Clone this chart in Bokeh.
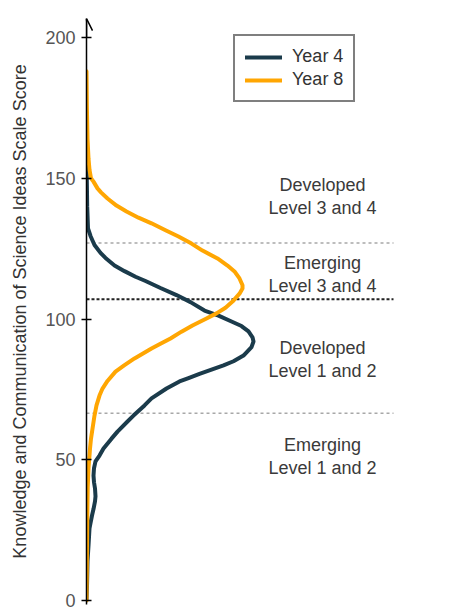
from bokeh.plotting import figure
from bokeh.models import Range1d, Arrow, OpenHead, Legend, LegendItem
from bokeh.core.properties import value
from bokeh.embed import file_html
from bokeh.resources import INLINE

# ---- data (score on vertical axis, relative density on horizontal) ----
year4_score = [162, 150, 140, 132.2, 129.5, 126.3, 123.5, 121.7, 119, 117, 115, 113.5, 111,
               108.5, 106, 103, 101.2, 99.1, 97.5, 95.6, 93.5, 92, 90, 88.5, 87, 85,
               83.5, 82, 80.5, 79, 77.8, 75.3, 71.8, 69.3, 65.7, 63.6, 60, 57.5, 54,
               51.5, 49.4, 47, 44.4, 42, 39.8, 37, 35.2, 32.5, 30.2, 27.5, 25.6, 19.5,
               13.9, 5, 0]
year4_density = [0, 0.3, 0.7, 1.5, 4, 8, 14, 19, 28, 38, 49, 59, 74,
                 90, 104, 118, 132, 145, 155, 162, 166, 167, 165, 161, 157, 147,
                 137, 125, 113, 102, 93, 80, 65, 58, 47, 41, 31, 25, 17,
                 13, 9, 7.5, 7, 7.5, 8.5, 9, 8.5, 7, 5.5, 4, 3, 2,
                 1, 0.5, 0]

year8_score = [188, 175, 164, 157, 153, 150, 148.8, 146.4, 145, 142.8, 140.3, 138.2, 136,
               134, 131.5, 129.3, 126.8, 124.3, 121.5, 119, 116.9, 114.4, 112, 110.8,
               109, 106.2, 104, 102, 100, 97.7, 95.5, 93.1, 91, 89.5, 86, 83.6, 81.3,
               78, 75.3, 72.8, 69.3, 65.7, 61, 57.5, 54, 51.5, 47, 40, 30, 20, 10, 0]
year8_density = [0, 0.4, 1, 2, 3, 4.5, 7, 11, 14.5, 21, 30, 40, 52,
                 65, 79, 92, 105, 116, 131, 141, 148, 153, 156, 156,
                 153, 146, 139, 130, 119, 106, 95, 84, 73, 65, 48, 38, 29,
                 21, 16, 13, 10, 8, 6, 4.5, 3.5, 3, 2, 1.2, 0.8, 0.5, 0.3, 0]

series_names = ["Year 4", "Year 8"]
series_colors = ["#1b3b4b", "#ffa602"]

score_ticks = [0, 50, 100, 150, 200]
level_cutoffs_minor = [66.5, 127]      # grey dotted boundaries
level_cutoff_major = [107]             # black dotted boundary

level_labels = ["Developed\nLevel 3 and 4", "Emerging\nLevel 3 and 4",
                "Developed\nLevel 1 and 2", "Emerging\nLevel 1 and 2"]
level_label_scores = [143.5, 115.8, 85.6, 51.2]

FONT = "Liberation Sans"

p = figure(width=451, height=610,
           x_range=Range1d(0, 365), y_range=Range1d(-1.42, 206.75),
           output_backend="svg", toolbar_location=None, x_axis_location=None,
           min_border_left=86, min_border_right=0, min_border_top=18, min_border_bottom=6)
p.outline_line_color = None
p.grid.visible = False
p.background_fill_color = "white"
p.border_fill_color = "white"

ya = p.yaxis[0]
ya.ticker = score_ticks
ya.axis_line_color = "black"
ya.axis_line_width = 1.5
ya.major_tick_line_color = "black"
ya.major_tick_line_width = 1.5
ya.major_tick_in = 5
ya.major_tick_out = 5
ya.minor_tick_line_color = None
ya.major_label_standoff = 6
ya.major_label_text_font = FONT
ya.major_label_text_font_size = "18px"
ya.major_label_text_color = "#555555"
ya.axis_label = "Knowledge and Communication of Science Ideas Scale Score"
ya.axis_label_text_font = FONT
ya.axis_label_text_font_size = "18px"
ya.axis_label_text_font_style = "normal"
ya.axis_label_text_color = "#333333"
ya.axis_label_standoff = 12

# boundaries
p.segment(x0=[0] * len(level_cutoffs_minor), y0=level_cutoffs_minor,
          x1=[307] * len(level_cutoffs_minor), y1=level_cutoffs_minor,
          line_color="#a8a8a8", line_width=1.6, line_dash="3 3")
p.segment(x0=[0], y0=level_cutoff_major, x1=[307], y1=level_cutoff_major,
          line_color="#222222", line_width=2, line_dash="3 2")

# curves
r4 = p.line(year4_density, year4_score, line_color=series_colors[0], line_width=4,
            line_join="round", line_cap="round")
r8 = p.line(year8_density, year8_score, line_color=series_colors[1], line_width=4,
            line_join="round", line_cap="round")

# level labels
p.text(x=[236] * len(level_labels), y=level_label_scores, text=level_labels,
       text_align="center", text_baseline="middle", text_font=value(FONT),
       text_font_size="18px", text_color="#3a3a3a", text_line_height=1.17)

# arrow head on top of axis
p.add_layout(Arrow(end=OpenHead(size=12, line_width=1.5, line_color="black"),
                   x_start=0, y_start=200, x_end=0, y_end=206.7,
                   line_width=1.5, line_color="black"))

legend = Legend(items=[LegendItem(label=series_names[0], renderers=[r4]),
                       LegendItem(label=series_names[1], renderers=[r8])],
                location=(147, 502), border_line_color="black", border_line_width=2,
                padding=10, spacing=2, glyph_width=37, glyph_height=20, label_height=20,
                label_standoff=10, label_text_font=FONT, label_text_font_size="18px",
                label_text_color="#333333", margin=0, background_fill_color="white")
p.add_layout(legend)

open("out.html", "w").write(file_html(p, INLINE))
